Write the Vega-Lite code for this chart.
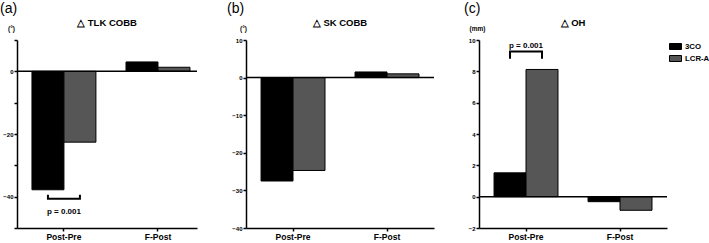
{
  "$schema": "https://vega.github.io/schema/vega-lite/v6.json",
  "padding": {"left": 0, "top": 1, "right": 0, "bottom": 0},
  "config": {
    "view": {"stroke": null},
    "font": "Liberation Sans",
    "concat": {"spacing": 29},
    "axis": {
      "grid": false,
      "domainColor": "#000000",
      "domainWidth": 1.5,
      "tickColor": "#000000",
      "tickWidth": 1.5,
      "tickSize": 3,
      "labelColor": "#000000",
      "labelFont": "Liberation Sans",
      "labelFontWeight": "bold",
      "titleColor": "#000000",
      "titleFont": "Liberation Sans",
      "titleFontWeight": "bold"
    },
    "axisX": {"labelFontSize": 8.5, "labelPadding": 1, "labelAngle": 0},
    "axisY": {"labelFontSize": 6, "labelPadding": 1, "labelOverlap": false, "labelFlush": false, "titleFontSize": 6.5, "titleAngle": 0, "titleAlign": "center", "titleBaseline": "middle"},
    "title": {"font": "Liberation Sans", "color": "#000000"},
    "legend": {"padding": 0}
  },
  "datasets": {
    "bars": [
      {"panel": "a", "group": "Post-Pre", "series": "3CO", "value": -37.8},
      {"panel": "a", "group": "Post-Pre", "series": "LCR-A", "value": -22.6},
      {"panel": "a", "group": "F-Post", "series": "3CO", "value": 3.0},
      {"panel": "a", "group": "F-Post", "series": "LCR-A", "value": 1.3},
      {"panel": "b", "group": "Post-Pre", "series": "3CO", "value": -27.5},
      {"panel": "b", "group": "Post-Pre", "series": "LCR-A", "value": -24.7},
      {"panel": "b", "group": "F-Post", "series": "3CO", "value": 1.5},
      {"panel": "b", "group": "F-Post", "series": "LCR-A", "value": 1.0},
      {"panel": "c", "group": "Post-Pre", "series": "3CO", "value": 1.52},
      {"panel": "c", "group": "Post-Pre", "series": "LCR-A", "value": 8.12},
      {"panel": "c", "group": "F-Post", "series": "3CO", "value": -0.32},
      {"panel": "c", "group": "F-Post", "series": "LCR-A", "value": -0.87}
    ],
    "brackets": [
      {"panel": "a", "group": "Post-Pre", "series": "3CO", "value": -39.4, "ord": 1},
      {"panel": "a", "group": "Post-Pre", "series": "3CO", "value": -40.7, "ord": 2},
      {"panel": "a", "group": "Post-Pre", "series": "LCR-A", "value": -40.7, "ord": 3},
      {"panel": "a", "group": "Post-Pre", "series": "LCR-A", "value": -39.4, "ord": 4},
      {"panel": "c", "group": "Post-Pre", "series": "3CO", "value": 8.8, "ord": 1},
      {"panel": "c", "group": "Post-Pre", "series": "3CO", "value": 9.26, "ord": 2},
      {"panel": "c", "group": "Post-Pre", "series": "LCR-A", "value": 9.26, "ord": 3},
      {"panel": "c", "group": "Post-Pre", "series": "LCR-A", "value": 8.8, "ord": 4}
    ],
    "pvalues": [
      {"panel": "a", "group": "Post-Pre", "value": -44.8, "label": "p = 0.001"},
      {"panel": "c", "group": "Post-Pre", "value": 9.6, "label": "p = 0.001"}
    ]
  },
  "resolve": {"scale": {"color": "independent"}},
  "hconcat": [
    {
      "title": {"text": "(a)", "anchor": "start", "frame": "bounds", "fontSize": 14, "fontWeight": "normal", "offset": 2},
      "hconcat": [
        {
          "width": 180,
          "height": 188,
          "title": {"text": "△ TLK COBB", "fontSize": 9.5, "fontWeight": "bold", "anchor": "middle", "offset": -2},
          "layer": [
            {
              "data": {"name": "bars"},
              "transform": [{"filter": "datum.panel === 'a'"}],
              "mark": {"type": "bar", "stroke": "#000000", "strokeWidth": 1},
              "encoding": {
                "x": {"field": "group", "type": "nominal", "sort": ["Post-Pre", "F-Post"], "title": null,
                      "scale": {"paddingInner": 0.32, "paddingOuter": 0.117, "align": 0.68}},
                "xOffset": {"field": "series", "type": "nominal", "sort": ["3CO", "LCR-A"], "scale": {"paddingInner": 0, "paddingOuter": 0}},
                "y": {"field": "value", "type": "quantitative", "scale": {"domain": [-50, 10], "nice": false},
                      "axis": {"title": "(°)", "tickCount": 6,
                               "labelExpr": "abs(datum.value) % 20 == 0 ? datum.label : ''",
                               "minExtent": 17, "maxExtent": 17, "titleX": -6, "titleY": -12}},
                "color": {"field": "series", "type": "nominal", "legend": null,
                          "scale": {"domain": ["3CO", "LCR-A"], "range": ["#000000", "#565656"]}}
              }
            },
            {
              "data": {"values": [{}]},
              "mark": {"type": "rule", "stroke": "#000000", "strokeWidth": 1.5},
              "encoding": {"y": {"datum": 0}}
            },
            {
              "data": {"name": "brackets"},
              "transform": [{"filter": "datum.panel === 'a'"}],
              "mark": {"type": "line", "stroke": "#000000", "strokeWidth": 2},
              "encoding": {
                "x": {"field": "group", "type": "nominal", "sort": ["Post-Pre", "F-Post"], "title": null},
                "xOffset": {"field": "series", "type": "nominal", "sort": ["3CO", "LCR-A"]},
                "y": {"field": "value", "type": "quantitative"},
                "order": {"field": "ord"}
              }
            },
            {
              "data": {"name": "pvalues"},
              "transform": [{"filter": "datum.panel === 'a'"}],
              "mark": {"type": "text", "fontSize": 8, "fontWeight": "bold", "color": "#000000"},
              "encoding": {
                "x": {"field": "group", "type": "nominal", "sort": ["Post-Pre", "F-Post"], "title": null},
                "y": {"field": "value", "type": "quantitative"},
                "text": {"field": "label"}
              }
            }
          ]
        }
      ]
    },
    {
      "title": {"text": "(b)", "anchor": "start", "frame": "bounds", "fontSize": 14, "fontWeight": "normal", "offset": 2},
      "hconcat": [
        {
          "width": 188,
          "height": 188,
          "title": {"text": "△ SK COBB", "fontSize": 9.5, "fontWeight": "bold", "anchor": "middle", "offset": -2},
          "layer": [
            {
              "data": {"name": "bars"},
              "transform": [{"filter": "datum.panel === 'b'"}],
              "mark": {"type": "bar", "stroke": "#000000", "strokeWidth": 1},
              "encoding": {
                "x": {"field": "group", "type": "nominal", "sort": ["Post-Pre", "F-Post"], "title": null,
                      "scale": {"paddingInner": 0.32, "paddingOuter": 0.16}},
                "xOffset": {"field": "series", "type": "nominal", "sort": ["3CO", "LCR-A"], "scale": {"paddingInner": 0, "paddingOuter": 0}},
                "y": {"field": "value", "type": "quantitative", "scale": {"domain": [-40, 10], "nice": false},
                      "axis": {"title": "(°)", "tickCount": 5,
                               "minExtent": 19, "maxExtent": 19, "titleX": -3, "titleY": -12}},
                "color": {"field": "series", "type": "nominal", "legend": null,
                          "scale": {"domain": ["3CO", "LCR-A"], "range": ["#000000", "#565656"]}}
              }
            },
            {
              "data": {"values": [{}]},
              "mark": {"type": "rule", "stroke": "#000000", "strokeWidth": 1.5},
              "encoding": {"y": {"datum": 0}}
            }
          ]
        }
      ]
    },
    {
      "title": {"text": "(c)", "anchor": "start", "frame": "bounds", "fontSize": 14, "fontWeight": "normal", "offset": 2},
      "hconcat": [
        {
          "width": 188,
          "height": 188,
          "title": {"text": "△ OH", "fontSize": 9.5, "fontWeight": "bold", "anchor": "middle", "offset": -2},
          "layer": [
            {
              "data": {"name": "bars"},
              "transform": [{"filter": "datum.panel === 'c'"}],
              "mark": {"type": "bar", "stroke": "#000000", "strokeWidth": 1},
              "encoding": {
                "x": {"field": "group", "type": "nominal", "sort": ["Post-Pre", "F-Post"], "title": null,
                      "scale": {"paddingInner": 0.32, "paddingOuter": 0.16}},
                "xOffset": {"field": "series", "type": "nominal", "sort": ["3CO", "LCR-A"], "scale": {"paddingInner": 0, "paddingOuter": 0}},
                "y": {"field": "value", "type": "quantitative", "scale": {"domain": [-2, 10], "nice": false},
                      "axis": {"title": "(mm)", "tickCount": 6,
                               "minExtent": 15, "maxExtent": 15, "titleX": -2, "titleY": -12}},
                "color": {"field": "series", "type": "nominal",
                          "scale": {"domain": ["3CO", "LCR-A"], "range": ["#000000", "#565656"]},
                          "legend": {"title": null, "orient": "right", "offset": 1,
                                     "symbolType": "M-1,-0.5H1V0.5H-1Z", "symbolSize": 144,
                                     "symbolStrokeColor": "#000000", "symbolStrokeWidth": 1,
                                     "labelFont": "Liberation Sans", "labelFontSize": 7.8, "labelFontWeight": "bold",
                                     "labelColor": "#000000", "labelOffset": 3, "rowPadding": 0}}
              }
            },
            {
              "data": {"values": [{}]},
              "mark": {"type": "rule", "stroke": "#000000", "strokeWidth": 1.5},
              "encoding": {"y": {"datum": 0}}
            },
            {
              "data": {"name": "brackets"},
              "transform": [{"filter": "datum.panel === 'c'"}],
              "mark": {"type": "line", "stroke": "#000000", "strokeWidth": 2},
              "encoding": {
                "x": {"field": "group", "type": "nominal", "sort": ["Post-Pre", "F-Post"], "title": null},
                "xOffset": {"field": "series", "type": "nominal", "sort": ["3CO", "LCR-A"]},
                "y": {"field": "value", "type": "quantitative"},
                "order": {"field": "ord"}
              }
            },
            {
              "data": {"name": "pvalues"},
              "transform": [{"filter": "datum.panel === 'c'"}],
              "mark": {"type": "text", "fontSize": 8, "fontWeight": "bold", "color": "#000000"},
              "encoding": {
                "x": {"field": "group", "type": "nominal", "sort": ["Post-Pre", "F-Post"], "title": null},
                "y": {"field": "value", "type": "quantitative"},
                "text": {"field": "label"}
              }
            }
          ]
        }
      ]
    }
  ]
}
